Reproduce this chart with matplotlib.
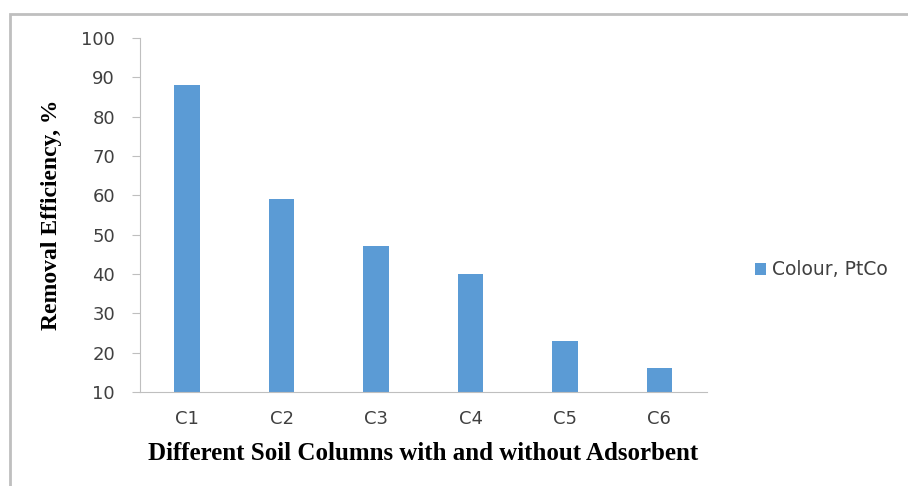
import matplotlib
matplotlib.use("Agg")
import matplotlib.pyplot as plt
from matplotlib.patches import Rectangle

# values
columns = ["C1", "C2", "C3", "C4", "C5", "C6"]
colour_removal = [88, 59, 47, 40, 23, 16]
yticks = [10, 20, 30, 40, 50, 60, 70, 80, 90, 100]

fig = plt.figure(figsize=(9.08, 4.86), dpi=100)
ax = fig.add_axes([0.1542, 0.1934, 0.624, 0.7284])

# outer frame, partly cut off on the right and bottom like the reference
fig.patches.append(Rectangle((10 / 908, -0.05), 1.2, 1 - 13.5 / 486 + 0.05,
                             transform=fig.transFigure, fill=False,
                             edgecolor="#bfbfbf", linewidth=2))

x = range(len(columns))
ax.bar(x, [v - 10 for v in colour_removal], bottom=10, width=0.27,
       color="#5b9bd5", label="Colour, PtCo")

ax.set_xlim(-0.5, len(columns) - 0.5)
ax.set_ylim(10, 100)
ax.set_yticks(yticks)
ax.set_xticks(list(x))
ax.set_xticklabels(columns)

for s in ["top", "right"]:
    ax.spines[s].set_visible(False)
ax.spines["left"].set_color("#bfbfbf")
ax.spines["bottom"].set_color("#bfbfbf")
ax.tick_params(axis="y", colors="#bfbfbf", labelcolor="#404040", labelsize=13,
               length=6, direction="out", pad=12)
ax.tick_params(axis="x", length=0, labelcolor="#404040", labelsize=13, pad=13)
for lab in ax.get_xticklabels() + ax.get_yticklabels():
    lab.set_family("DejaVu Sans")

ax.set_ylabel("Removal Efficiency, %", family="Liberation Serif",
              fontweight="bold", fontsize=17, labelpad=14)
ax.set_xlabel("Different Soil Columns with and without Adsorbent",
              family="Liberation Serif", fontweight="bold", fontsize=18,
              labelpad=10)

leg = ax.legend(loc="center left", bbox_to_anchor=(1.055, 0.345), frameon=False,
                prop={"family": "DejaVu Sans", "size": 13.5},
                handlelength=0.6, handleheight=0.6, handletextpad=0.3)
for t in leg.get_texts():
    t.set_color("#404040")

fig.savefig("out.png", dpi=100)
